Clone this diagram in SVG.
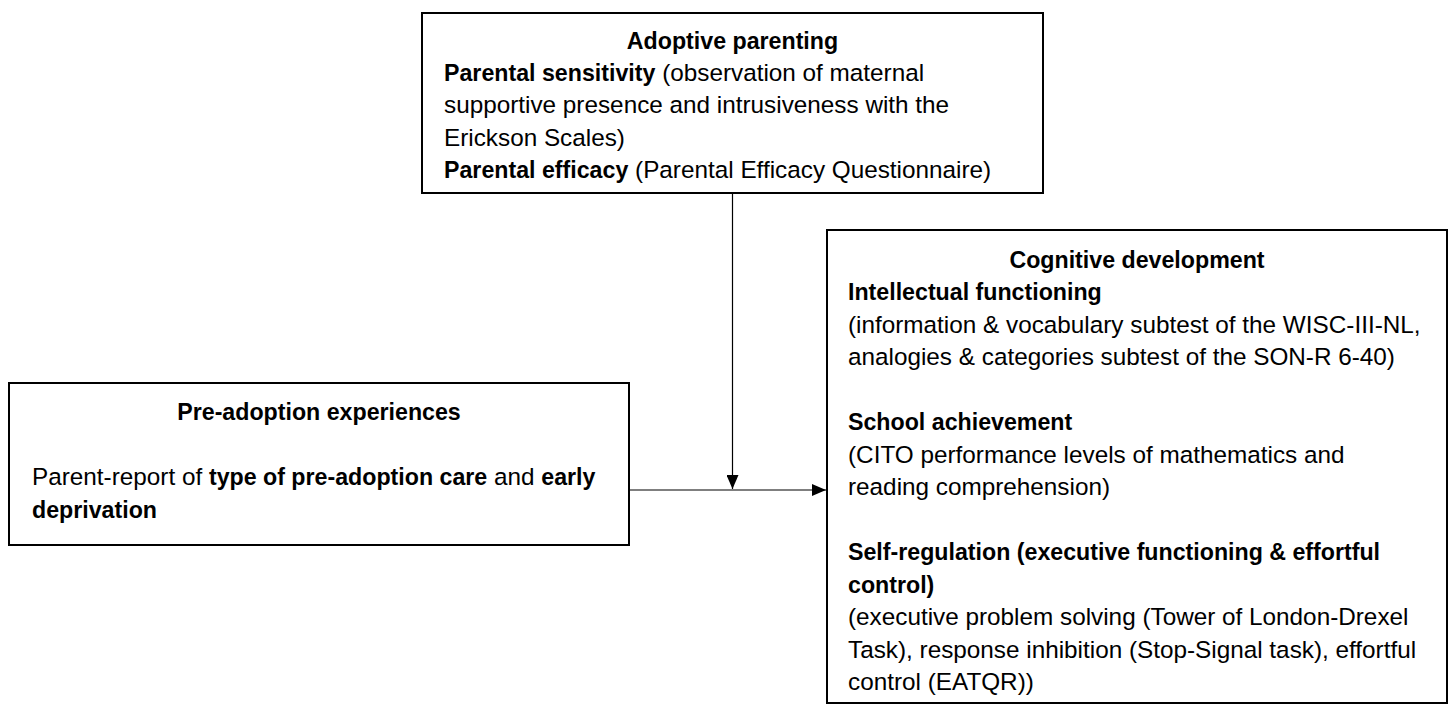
<svg xmlns="http://www.w3.org/2000/svg" width="1454" height="704" viewBox="0 0 1454 704">
  <defs>
    <style>
      .box { fill: #ffffff; stroke: #000000; stroke-width: 2; }
      .t { font-family: "Liberation Sans", Arial, sans-serif; font-size: 24.3px; fill: #000000; }
      .b { font-weight: bold; font-size: 23.2px; }
      .c { text-anchor: middle; }
      .conn { stroke: #000000; stroke-width: 1.2; fill: none; }
    </style>
    <marker id="arrow" viewBox="0 0 14 12" refX="14" refY="6" markerWidth="14" markerHeight="12" markerUnits="userSpaceOnUse" orient="auto">
      <path d="M0,0 L14,6 L0,12 Z" fill="#000000"/>
    </marker>
  </defs>
  <rect width="1454" height="704" fill="#ffffff"/>

  <g id="connectors">
    <line class="conn" x1="732.5" y1="193" x2="732.5" y2="489" marker-end="url(#arrow)"/>
    <line class="conn" x1="629" y1="490" x2="826" y2="490" marker-end="url(#arrow)"/>
  </g>

  <g id="adoptive-parenting">
    <rect class="box" x="422" y="13" width="621" height="180"/>
    <text class="t b c" x="732.5" y="48.5">Adoptive parenting</text>
    <text class="t" x="444" y="81"><tspan class="b">Parental sensitivity</tspan> (observation of maternal</text>
    <text class="t" x="444" y="113">supportive presence and intrusiveness with the</text>
    <text class="t" x="444" y="145.5">Erickson Scales)</text>
    <text class="t" x="444" y="178"><tspan class="b">Parental efficacy</tspan> (Parental Efficacy Questionnaire)</text>
  </g>

  <g id="pre-adoption">
    <rect class="box" x="9" y="383" width="620" height="162"/>
    <text class="t b c" x="319" y="420">Pre-adoption experiences</text>
    <text class="t" x="32" y="485">Parent-report of <tspan class="b">type of pre-adoption care</tspan> and <tspan class="b">early</tspan></text>
    <text class="t b" x="32" y="517.5">deprivation</text>
  </g>

  <g id="cognitive-development">
    <rect class="box" x="827" y="230" width="620" height="473"/>
    <text class="t b c" x="1137" y="267.5">Cognitive development</text>
    <text class="t b" x="848" y="300">Intellectual functioning</text>
    <text class="t" x="848" y="332.5">(information &amp; vocabulary subtest of the WISC-III-NL,</text>
    <text class="t" x="848" y="365">analogies &amp; categories subtest of the SON-R 6-40)</text>
    <text class="t b" x="848" y="430">School achievement</text>
    <text class="t" x="848" y="462.5">(CITO performance levels of mathematics and</text>
    <text class="t" x="848" y="495">reading comprehension)</text>
    <text class="t b" x="848" y="560">Self-regulation (executive functioning &amp; effortful</text>
    <text class="t b" x="848" y="592.5">control)</text>
    <text class="t" x="848" y="625">(executive problem solving (Tower of London-Drexel</text>
    <text class="t" x="848" y="657.5">Task), response inhibition (Stop-Signal task), effortful</text>
    <text class="t" x="848" y="690">control (EATQR))</text>
  </g>
</svg>
